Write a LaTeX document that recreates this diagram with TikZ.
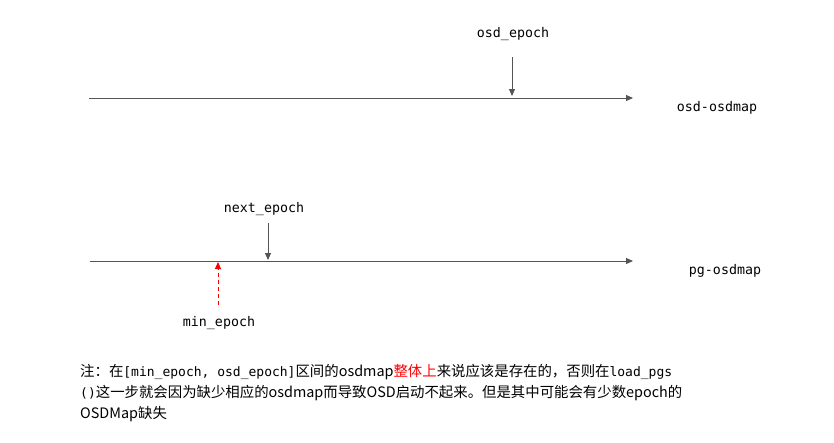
\documentclass[tikz,border=0pt]{standalone}
\usepackage{fontspec}
\setmonofont{DejaVu Sans Mono}
\newfontfamily\cjk{Noto Sans CJK SC}
\usetikzlibrary{arrows.meta}
\definecolor{linegray}{HTML}{555555}
\tikzset{
  axis/.style={draw=linegray, line width=1pt, -{Triangle[length=7pt,width=6pt]}},
  marker/.style={draw=linegray, line width=1pt, -{Triangle[length=7pt,width=6pt]}},
  redmarker/.style={draw=red, line width=1pt, dashed, dash pattern=on 4pt off 3pt, -{Triangle[length=7pt,width=6pt]}},
  lbl/.style={font=\fontsize{13.3}{16}\ttfamily, text=black, inner sep=0pt},
  para/.style={font=\fontsize{14.4}{18}\cjk, text=black, inner sep=0pt, anchor=west},
}
\newcommand{\mt}[1]{{\fontsize{13}{16}\ttfamily #1}}
\begin{document}
\begin{tikzpicture}[x=1pt,y=-1pt]
\useasboundingbox[fill=white] (0,0) rectangle (834,442);
% top timeline
\coordinate (t0) at (89,98);
\coordinate (t1) at (633,98);
\draw[axis] (t0) -- (t1);
\node[lbl] (osdepoch) at (513,34) {osd\_epoch};
\coordinate (oe0) at (512,57);
\coordinate (oe1) at (512,96);
\draw[marker] (oe0) -- (oe1);
\node[lbl] (osdosdmap) at (717,108) {osd-osdmap};
% bottom timeline
\coordinate (b0) at (90,261);
\coordinate (b1) at (633,261);
\draw[axis] (b0) -- (b1);
\node[lbl] (nextepoch) at (264,209) {next\_epoch};
\coordinate (ne0) at (268,223);
\coordinate (ne1) at (268,260);
\draw[marker] (ne0) -- (ne1);
\coordinate (me0) at (218,305);
\coordinate (me1) at (218,262);
\draw[redmarker] (me0) -- (me1);
\node[lbl] (minepoch) at (219,323) {min\_epoch};
\node[lbl] (pgosdmap) at (725,271) {pg-osdmap};
% note
\node[para] (l1) at (80,372) {注：在\mt{[min\_epoch, osd\_epoch]}区间的osdmap\textcolor{red}{整体上}来说应该是存在的，否则在\mt{load\_pgs}};
\node[para] (l2) at (80,393) {\mt{()}这一步就会因为缺少相应的osdmap而导致OSD启动不起来。但是其中可能会有少数epoch的};
\node[para] (l3) at (80,414) {OSDMap缺失};
\end{tikzpicture}
\end{document}
